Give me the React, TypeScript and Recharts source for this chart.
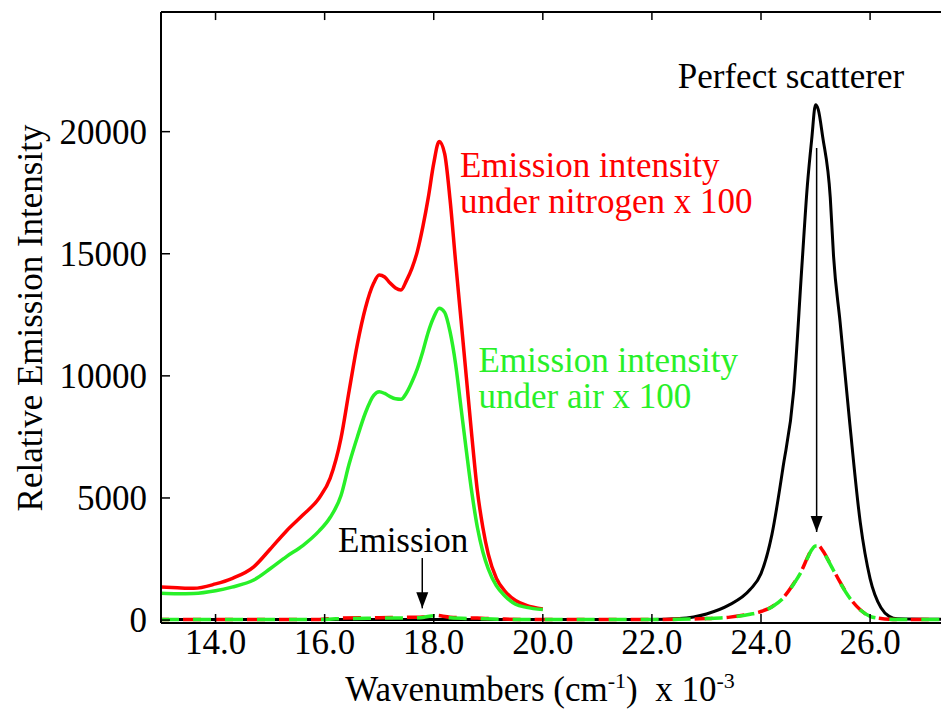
import React from 'react';
import { LineChart, Line, XAxis, YAxis, ReferenceLine, ReferenceDot } from 'recharts';

const FONT = '"Liberation Serif", "Times New Roman", serif';
const RED = '#ff0000';
const GREEN = '#28f028';

// emission band (x 100)
const bandX = [13.0, 13.3, 13.6, 14.0, 14.3, 14.7, 15.0, 15.3, 15.6, 15.9, 16.1, 16.3, 16.45, 16.6, 16.75, 16.9, 17.0, 17.1, 17.2, 17.3, 17.4, 17.5, 17.6, 17.7, 17.8, 17.9, 18.0, 18.1, 18.2, 18.3, 18.4, 18.5, 18.6, 18.7, 18.8, 18.9, 19.0, 19.15, 19.3, 19.5, 19.7, 20.0];
const nitrogenX100 = [1350, 1320, 1300, 1480, 1700, 2180, 2900, 3650, 4300, 5000, 5800, 7450, 9400, 11300, 12800, 13800, 14130, 14050, 13800, 13600, 13520, 13900, 14400, 15100, 16100, 17300, 18700, 19600, 19100, 17200, 14700, 12300, 9900, 7500, 5300, 3800, 2700, 1700, 1200, 800, 600, 450];
const airX100 = [1100, 1080, 1090, 1200, 1350, 1640, 2100, 2600, 3050, 3650, 4200, 5100, 6400, 7500, 8500, 9200, 9350, 9280, 9150, 9060, 9040, 9300, 9750, 10300, 11000, 11800, 12400, 12770, 12600, 11800, 10500, 8700, 6900, 5200, 3800, 2800, 2100, 1400, 1000, 650, 520, 430];

// full range: perfect scatterer and unscaled sample spectra
const fullX = [13.0, 15.9, 16.2, 17.0, 17.5, 17.8, 18.0, 18.3, 18.8, 19.3, 20.0, 22.0, 22.5, 23.0, 23.4, 23.8, 24.0, 24.2, 24.4, 24.6, 24.75, 24.85, 24.93, 25.0, 25.05, 25.13, 25.27, 25.33, 25.45, 25.63, 25.82, 26.0, 26.2, 26.35, 26.5, 27.3];
const scatterer = [20, 20, 20, 20, 20, 20, 20, 20, 20, 20, 20, 20, 60, 250, 600, 1250, 1900, 3500, 6200, 9400, 14500, 17800, 19700, 21100, 20900, 19800, 17300, 14900, 12200, 8000, 4000, 1700, 500, 150, 50, 30];
const nitrogenRaw = [20, 20, 80, 100, 110, 130, 200, 120, 80, 40, 20, 20, 30, 60, 110, 250, 350, 550, 900, 1500, 2050, 2550, 2900, 3050, 3050, 2850, 2300, 2050, 1550, 900, 420, 150, 60, 30, 20, 20];
const airRaw = [20, 20, 50, 80, 90, 110, 180, 90, 60, 30, 20, 20, 30, 60, 110, 240, 340, 540, 880, 1480, 2030, 2530, 2880, 3030, 3030, 2830, 2280, 2030, 1530, 890, 410, 150, 60, 30, 20, 20];

const xTicks = [14, 16, 18, 20, 22, 24, 26];
const yTicks = [0, 5000, 10000, 15000, 20000];
const Y_MIN = -120;
const Y_MAX = 24900;

const notes = [
  { x: 24.55, y: 21790, lines: ['Perfect scatterer'], color: '#000', anchor: 'middle' },
  { x: 18.48, y: 18140, lines: ['Emission intensity', 'under nitrogen x 100'], color: RED, anchor: 'start' },
  { x: 18.82, y: 10170, lines: ['Emission intensity', 'under air x 100'], color: GREEN, anchor: 'start' },
  { x: 17.44, y: 2800, lines: ['Emission'], color: '#000', anchor: 'middle' },
];
const arrows = [
  { x: 17.79, from: 2540, to: 480 },
  { x: 25.02, from: 19330, to: 3610 },
];

const bandRows = bandX.map((x, i) => ({ x, nitrogen: nitrogenX100[i], air: airX100[i] }));
const fullRows = fullX.map((x, i) => ({ x, scatter: scatterer[i], nitrogen: nitrogenRaw[i], air: airRaw[i] }));

const tickStyle = { fontFamily: FONT, fontSize: 35, fill: '#000' };

const XTitle = () => (
  <text x={540} y={701} textAnchor="middle" fontFamily={FONT} fontSize={35} fill="#000">
    Wavenumbers (cm
    <tspan dy={-13} fontSize={22}>-1</tspan>
    <tspan dy={13}>{')\u00a0\u00a0x 10'}</tspan>
    <tspan dy={-13} fontSize={22}>-3</tspan>
  </text>
);

const YTitle = () => (
  <text x={42} y={318} transform="rotate(-90 42 318)" textAnchor="middle" fontFamily={FONT} fontSize={35} fill="#000">
    Relative Emission Intensity
  </text>
);

const arrowHead = (p: any) => (
  <polygon points={`${p.cx - 6},${p.cy - 16} ${p.cx + 6},${p.cy - 16} ${p.cx},${p.cy}`} fill="#000" />
);

const noteShape = (n: any) => (p: any) => (
  <text x={p.cx} y={p.cy} fill={n.color} textAnchor={n.anchor} fontFamily={FONT} fontSize={35}>
    {n.lines.map((l: string, i: number) => (
      <tspan key={i} x={p.cx} dy={i === 0 ? 0 : 36}>{l}</tspan>
    ))}
  </text>
);

export default function App() {
  return (
    <div style={{ position: 'absolute', left: 0, top: 0, width: 941, height: 710, overflow: 'hidden', background: '#fff' }}>
      <LineChart width={941} height={710} margin={{ top: 12, right: 0, bottom: 0, left: 0 }}>
        <XAxis
          dataKey="x"
          type="number"
          domain={[13, 27.3]}
          allowDataOverflow
          ticks={xTicks}
          interval={0}
          tickFormatter={(v: number) => v.toFixed(1)}
          height={87}
          tickSize={-9}
          tickMargin={15}
          tick={tickStyle}
          axisLine={{ stroke: '#000', strokeWidth: 2 }}
          tickLine={{ stroke: '#000', strokeWidth: 1.5 }}
          label={<XTitle />}
        />
        <YAxis
          type="number"
          domain={[Y_MIN, Y_MAX]}
          allowDataOverflow
          ticks={yTicks}
          interval={0}
          width={161}
          tickSize={-9}
          tickMargin={23}
          tick={tickStyle}
          axisLine={{ stroke: '#000', strokeWidth: 2 }}
          tickLine={{ stroke: '#000', strokeWidth: 1.5 }}
          label={<YTitle />}
        />

        {/* top frame with inward ticks */}
        <ReferenceLine y={Y_MAX} stroke="#000" strokeWidth={2} ifOverflow="visible" />
        {xTicks.map((t) => (
          <ReferenceLine key={`t${t}`} segment={[{ x: t, y: Y_MAX }, { x: t, y: Y_MAX - 330 }]} stroke="#000" strokeWidth={1.5} ifOverflow="visible" />
        ))}

        <Line data={fullRows} dataKey="scatter" type="monotone" stroke="#000" strokeWidth={3} dot={false} activeDot={false} isAnimationActive={false} />
        <Line data={fullRows} dataKey="nitrogen" type="monotone" stroke={RED} strokeWidth={3.5} strokeDasharray="18 14" strokeDashoffset={10} dot={false} activeDot={false} isAnimationActive={false} />
        <Line data={fullRows} dataKey="air" type="monotone" stroke={GREEN} strokeWidth={3.5} strokeDasharray="18 14" dot={false} activeDot={false} isAnimationActive={false} />
        <Line data={bandRows} dataKey="nitrogen" type="monotone" stroke={RED} strokeWidth={3.5} dot={false} activeDot={false} isAnimationActive={false} />
        <Line data={bandRows} dataKey="air" type="monotone" stroke={GREEN} strokeWidth={3.5} dot={false} activeDot={false} isAnimationActive={false} />

        {arrows.map((a, i) => (
          <ReferenceLine key={`s${i}`} segment={[{ x: a.x, y: a.from }, { x: a.x, y: a.to }]} stroke="#000" strokeWidth={1.5} ifOverflow="visible" />
        ))}
        {arrows.map((a, i) => (
          <ReferenceDot key={`h${i}`} x={a.x} y={a.to} r={0} shape={arrowHead} ifOverflow="visible" />
        ))}
        {notes.map((n, i) => (
          <ReferenceDot key={`n${i}`} x={n.x} y={n.y} r={0} shape={noteShape(n)} ifOverflow="visible" />
        ))}
      </LineChart>
    </div>
  );
}
